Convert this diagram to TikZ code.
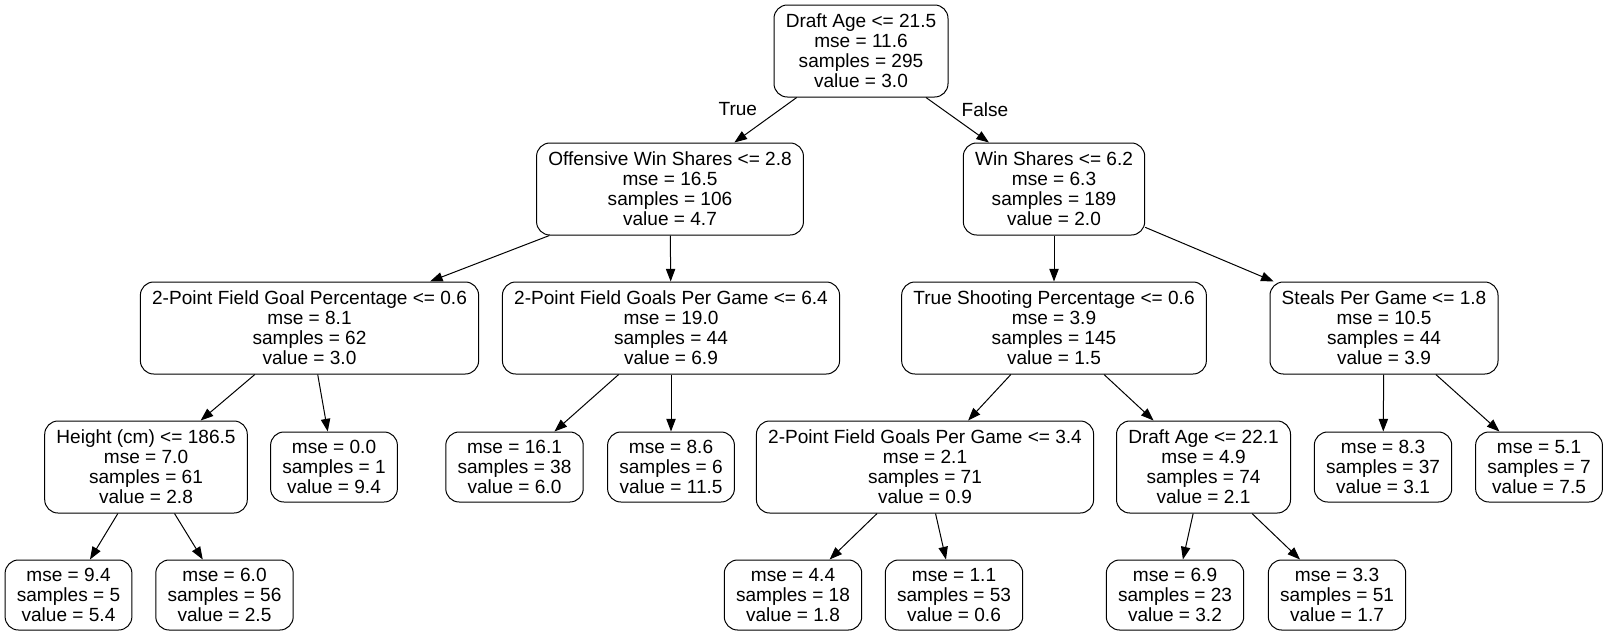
\documentclass[tikz,border=0pt]{standalone}
\usepackage{fontspec}
\setmainfont{Liberation Sans}
\usetikzlibrary{positioning, arrows.meta}

\begin{document}
\begin{tikzpicture}[
    x=0.75pt, y=-0.75pt,
    ->,
    >={Triangle[length=9.5pt, width=7pt]},
    line width=0.75pt,
    font=\fontsize{14.3pt}{15pt}\selectfont,
    split/.style={draw, rounded corners=10pt, align=center, inner xsep=8.8pt, inner ysep=0pt, minimum height=69pt, fill=white},
    leaf/.style={split, minimum height=52.5pt}
  ]

  \useasboundingbox (0,0) rectangle (1608,636);

  % --- NÓS ---
  \node[split] (age) at (861,51) {Draft Age <= 21.5\\mse = 11.6\\samples = 295\\value = 3.0};
  \node[split] (ows) at (670,189) {Offensive Win Shares <= 2.8\\mse = 16.5\\samples = 106\\value = 4.7};
  \node[split] (ws) at (1054,189) {Win Shares <= 6.2\\mse = 6.3\\samples = 189\\value = 2.0};
  \node[split] (fgp) at (309.5,328) {2-Point Field Goal Percentage <= 0.6\\mse = 8.1\\samples = 62\\value = 3.0};
  \node[split] (fgg) at (671,328) {2-Point Field Goals Per Game <= 6.4\\mse = 19.0\\samples = 44\\value = 6.9};
  \node[split] (tsp) at (1054,328) {True Shooting Percentage <= 0.6\\mse = 3.9\\samples = 145\\value = 1.5};
  \node[split] (spg) at (1384,328) {Steals Per Game <= 1.8\\mse = 10.5\\samples = 44\\value = 3.9};
  \node[split] (hgt) at (146,467) {Height (cm) <= 186.5\\mse = 7.0\\samples = 61\\value = 2.8};
  \node[leaf] (l1) at (334,467) {mse = 0.0\\samples = 1\\value = 9.4};
  \node[leaf] (l2) at (514.5,467) {mse = 16.1\\samples = 38\\value = 6.0};
  \node[leaf] (l3) at (671,467) {mse = 8.6\\samples = 6\\value = 11.5};
  \node[split] (fgg2) at (925,467) {2-Point Field Goals Per Game <= 3.4\\mse = 2.1\\samples = 71\\value = 0.9};
  \node[split] (age2) at (1203.5,467) {Draft Age <= 22.1\\mse = 4.9\\samples = 74\\value = 2.1};
  \node[leaf] (l4) at (1383,467) {mse = 8.3\\samples = 37\\value = 3.1};
  \node[leaf] (l5) at (1539,467) {mse = 5.1\\samples = 7\\value = 7.5};
  \node[leaf] (l6) at (68.5,595) {mse = 9.4\\samples = 5\\value = 5.4};
  \node[leaf] (l7) at (224.5,595) {mse = 6.0\\samples = 56\\value = 2.5};
  \node[leaf] (l8) at (793,595) {mse = 4.4\\samples = 18\\value = 1.8};
  \node[leaf] (l9) at (954,595) {mse = 1.1\\samples = 53\\value = 0.6};
  \node[leaf] (l10) at (1175,595) {mse = 6.9\\samples = 23\\value = 3.2};
  \node[leaf] (l11) at (1337,595) {mse = 3.3\\samples = 51\\value = 1.7};

  % --- ARESTAS ---

  % 1. Raiz
  \path (age) edge node[pos=0.26, xshift=-32pt] {True} (ows)
              edge node[pos=0.26, xshift=32pt] {False} (ws);

  % 2. Ramo esquerdo
  \path (ows) edge (fgp)
              edge (fgg);
  \path (fgp) edge (hgt)
              edge (l1);
  \path (hgt) edge (l6)
              edge (l7);
  \path (fgg) edge (l2)
              edge (l3);

  % 3. Ramo direito
  \path (ws) edge (tsp)
             edge (spg);
  \path (tsp) edge (fgg2)
              edge (age2);
  \path (fgg2) edge (l8)
               edge (l9);
  \path (age2) edge (l10)
               edge (l11);
  \path (spg) edge (l4)
              edge (l5);

\end{tikzpicture}
\end{document}
